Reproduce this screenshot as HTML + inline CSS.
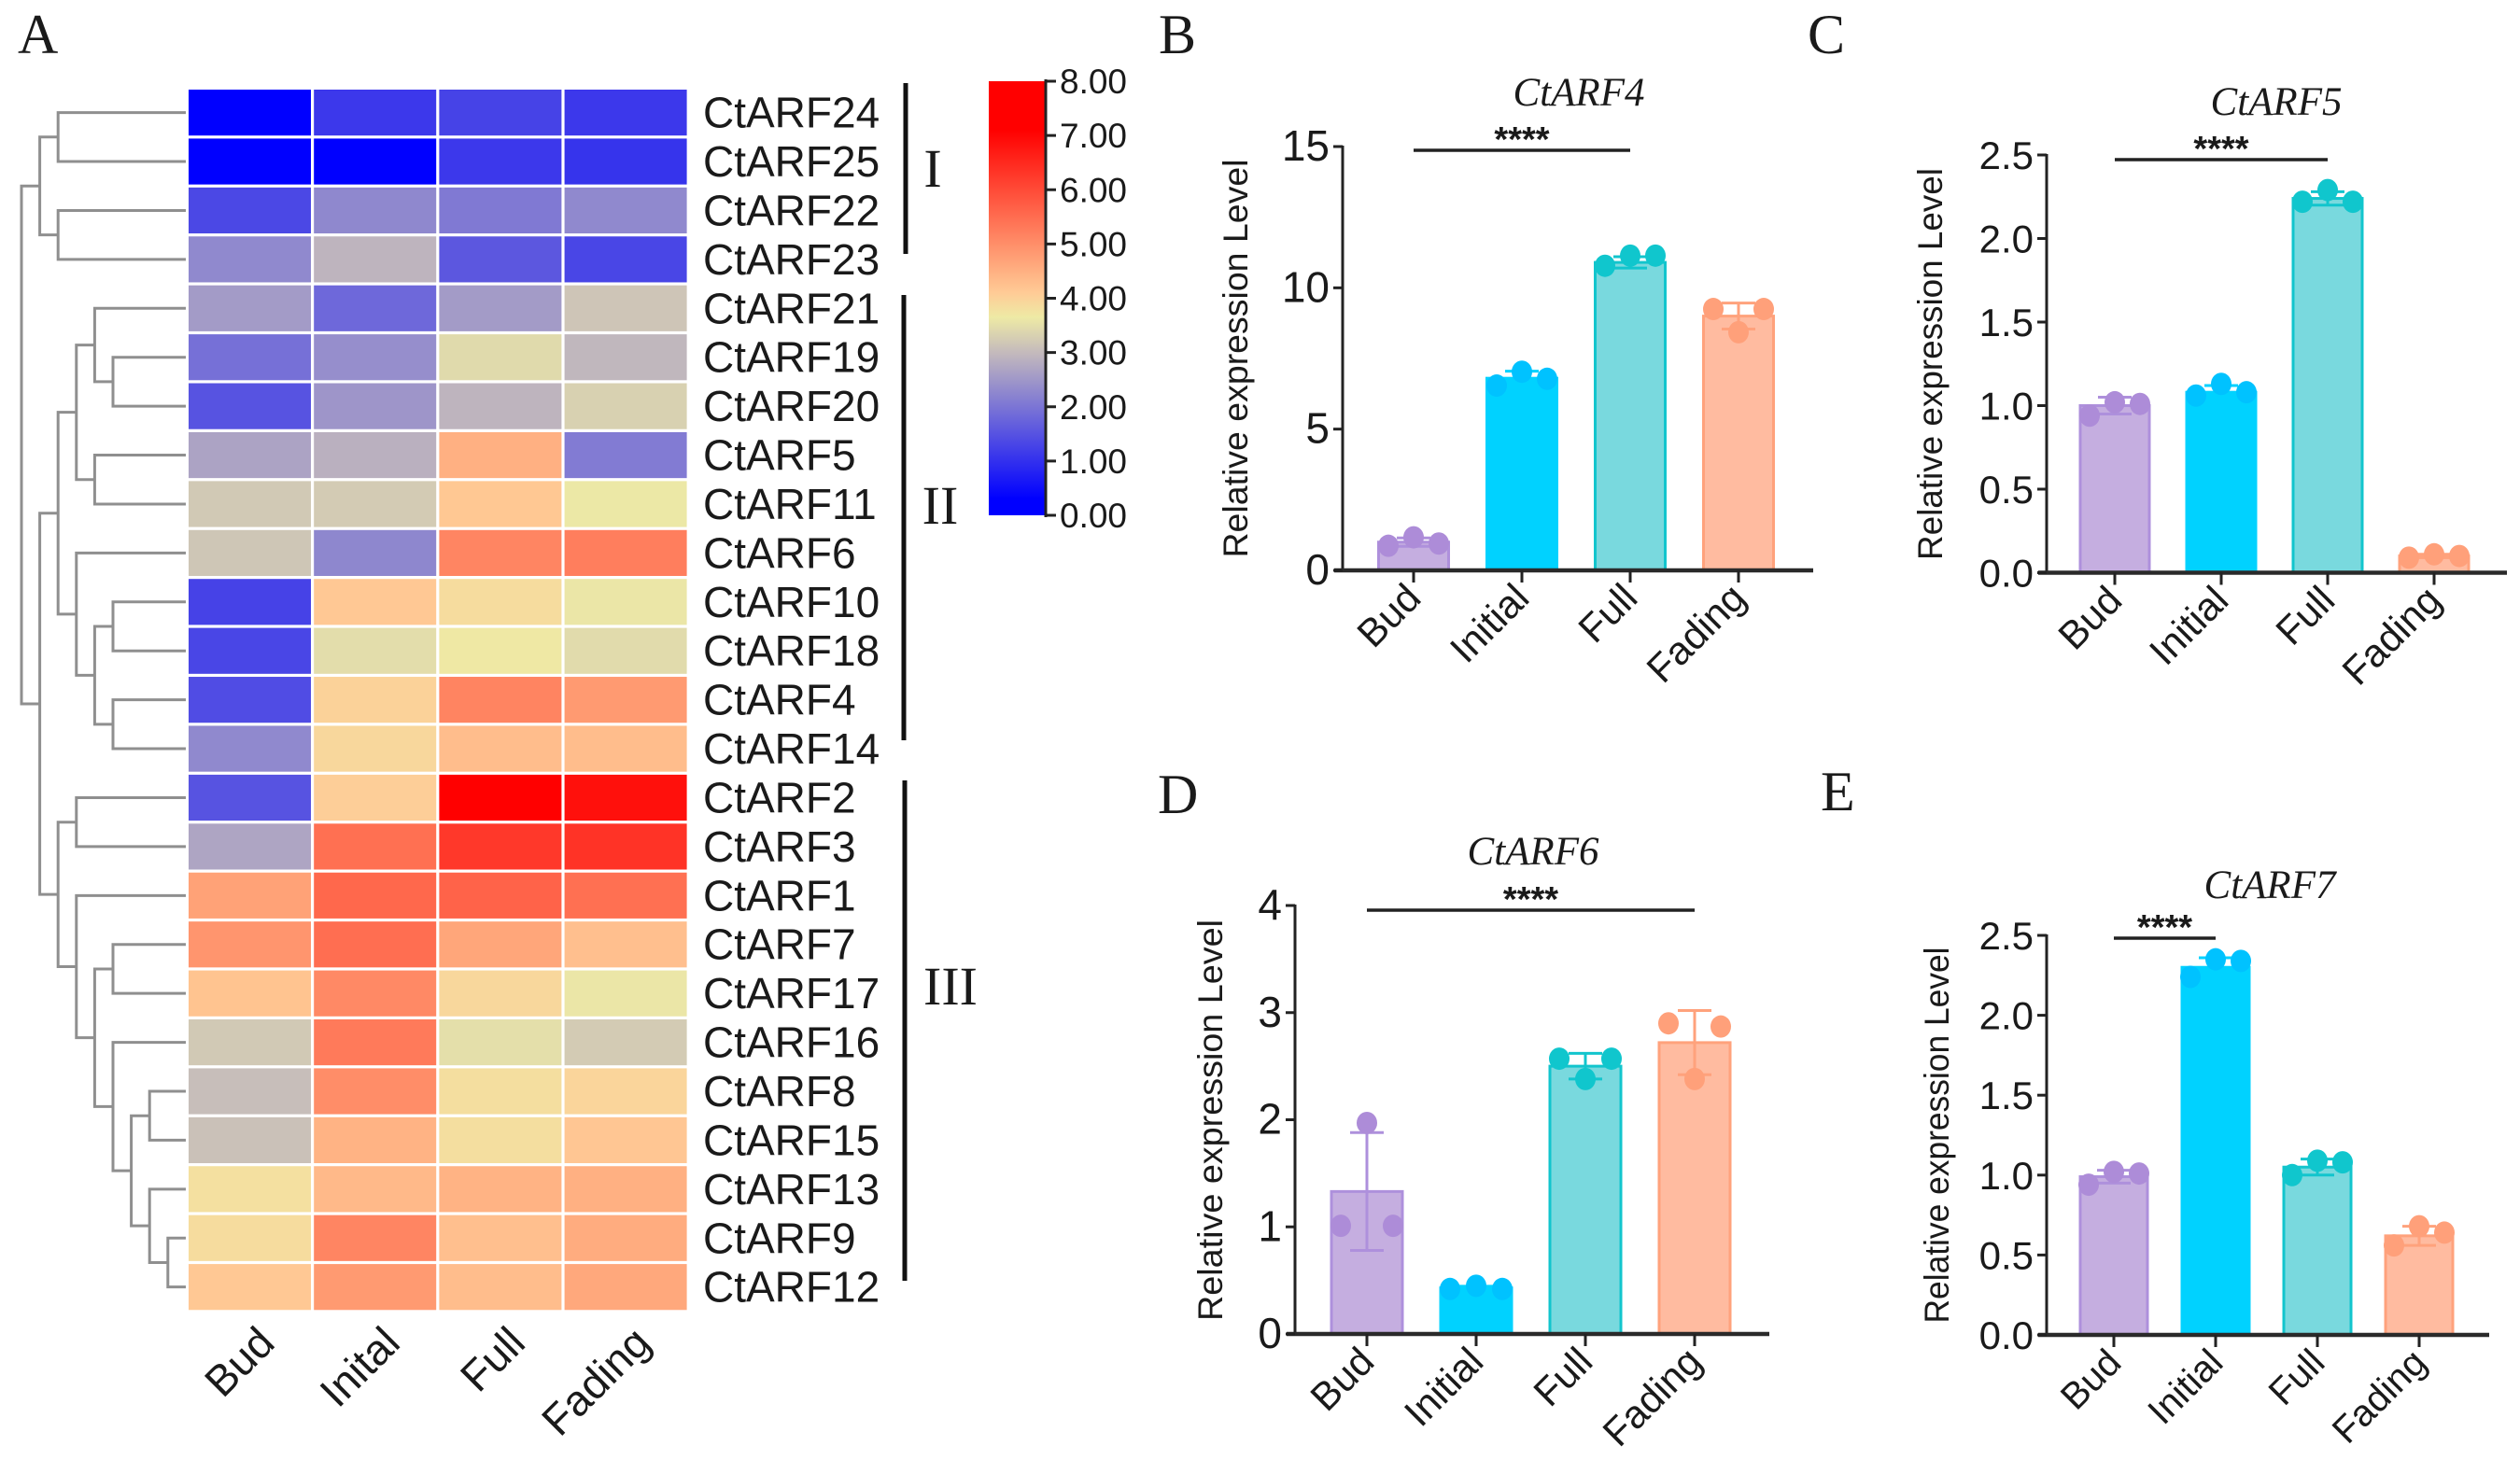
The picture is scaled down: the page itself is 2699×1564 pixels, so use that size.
<!DOCTYPE html>
<html lang="en">
<head>
<meta charset="utf-8">
<title>CtARF expression heatmap and qPCR charts</title>
<style>
html,body{margin:0;padding:0;background:#fff;}
svg{display:block;}
text{font-family:"Liberation Sans",sans-serif;fill:#1a1a1a;}
.serif{font-family:"Liberation Serif",serif;}
</style>
</head>
<body>
<svg id="fig" xmlns="http://www.w3.org/2000/svg" width="2699" height="1564" viewBox="0 0 2699 1564">
  <defs><linearGradient id="cbar" x1="0" y1="1" x2="0" y2="0"></linearGradient></defs>
  <rect x="0" y="0" width="2699" height="1564" fill="#ffffff"/>

  <text class="serif" x="19" y="57" font-size="60">A</text>
  <text class="serif" x="1241" y="57" font-size="60">B</text>
  <text class="serif" x="1936" y="57" font-size="60">C</text>
  <text class="serif" x="1240" y="871" font-size="60">D</text>
  <text class="serif" x="1950" y="868" font-size="60">E</text>

  <g id="dendro"></g>
  <g id="heat"></g>
  <g id="rowlabels"></g>
  <g id="collabels"></g>

  <line x1="970" y1="89" x2="970" y2="272" stroke="#111" stroke-width="5"/>
  <line x1="968" y1="316" x2="968" y2="793" stroke="#111" stroke-width="5"/>
  <line x1="969" y1="836" x2="969" y2="1372" stroke="#111" stroke-width="5"/>
  <text class="serif" x="999" y="200" font-size="58" text-anchor="middle">I</text>
  <text class="serif" x="1007" y="561" font-size="58" text-anchor="middle">II</text>
  <text class="serif" x="1018" y="1076" font-size="58" text-anchor="middle">III</text>

  <rect x="1059" y="87" width="60" height="465" fill="url(#cbar)"/>
  <line x1="1120" y1="85" x2="1120" y2="554" stroke="#222" stroke-width="3"/>
  <g id="cbarticks"></g>

  <g id="panelB"></g>
  <g id="panelC"></g>
  <g id="panelD"></g>
  <g id="panelE"></g>
</svg>

<script>
// ---------- heatmap data ----------
const genes = ["CtARF24","CtARF25","CtARF22","CtARF23","CtARF21","CtARF19","CtARF20","CtARF5","CtARF11","CtARF6","CtARF10","CtARF18","CtARF4","CtARF14","CtARF2","CtARF3","CtARF1","CtARF7","CtARF17","CtARF16","CtARF8","CtARF15","CtARF13","CtARF9","CtARF12"];
const heatStages = ["Bud","Inital","Full","Fading"];
const heatValues = [
  [0.2,1.12,1.27,1.12],
  [0.2,0.2,1.12,1.05],
  [1.34,2.27,2.06,2.29],
  [2.29,2.92,1.57,1.31],
  [2.55,1.81,2.55,3.15],
  [1.92,2.36,3.44,2.95],
  [1.5,2.47,2.92,3.31],
  [2.67,2.86,4.5,2.09],
  [3.2,3.23,4.15,3.62],
  [3.16,2.26,5.14,5.24],
  [1.26,4.14,3.85,3.6],
  [1.31,3.48,3.68,3.45],
  [1.4,4.0,5.15,4.83],
  [2.29,3.92,4.3,4.3],
  [1.5,4.05,7.1,6.86],
  [2.7,5.45,6.27,6.34],
  [4.71,5.57,5.64,5.45],
  [4.9,5.48,4.65,4.27],
  [4.21,5.07,3.92,3.6],
  [3.2,5.3,3.5,3.23],
  [3.05,5.02,3.82,3.96],
  [3.1,4.45,3.82,4.17],
  [3.8,4.36,4.45,4.5],
  [3.85,5.14,4.27,4.56],
  [4.14,4.83,4.3,4.62]
];
const colorbarTicks = ["0.00","1.00","2.00","3.00","4.00","5.00","6.00","7.00","8.00"];
// dendrogram: [level, childA, childB]; a number is a row index into genes
const dendroTree = [0,
  [1,[2,0,1],[2,2,3]],
  [1,
    [2,
      [3,[4,4,[5,5,6]],[4,7,8]],
      [3,9,[4,[5,10,11],[5,12,13]]]
    ],
    [2,
      [3,14,15],
      [3,16,[4,[5,17,18],[5,19,[6,[7,20,21],[7,22,[8,23,24]]]]]]
    ]
  ]
];

// ---------- bar chart data ----------
const barStages = ["Bud","Initial","Full","Fading"];
const b_ticks = ["0","5","10","15"];
const b_means = [1.0,6.8,10.9,9.0];
const b_sd = [0.15,0.25,0.2,0.46];
const b_dots = [[0.87,1.17,0.95],[6.54,7.03,6.78],[10.78,11.14,11.14],[9.25,8.43,9.25]];
const c_ticks = ["0.0","0.5","1.0","1.5","2.0","2.5"];
const c_means = [1.0,1.08,2.24,0.1];
const c_sd = [0.05,0.04,0.04,0.01];
const c_dots = [[0.94,1.02,1.01],[1.06,1.13,1.08],[2.22,2.29,2.22],[0.09,0.11,0.10]];
const d_ticks = ["0","1","2","3","4"];
const d_means = [1.33,0.43,2.5,2.72];
const d_sd = [0.55,0.015,0.12,0.3];
const d_dots = [[1.01,1.97,1.01],[0.42,0.45,0.42],[2.57,2.38,2.57],[2.9,2.38,2.87]];
const e_ticks = ["0.0","0.5","1.0","1.5","2.0","2.5"];
const e_means = [0.99,2.3,1.05,0.62];
const e_sd = [0.04,0.06,0.05,0.06];
const e_dots = [[0.94,1.02,1.01],[2.24,2.35,2.34],[1.0,1.09,1.08],[0.56,0.68,0.64]];

// ---------- helpers ----------
const NS = "http://www.w3.org/2000/svg";
function add(parent, tag, attrs, txt){
  const n = document.createElementNS(NS, tag);
  for (const k in attrs) n.setAttribute(k, attrs[k]);
  if (txt !== undefined) n.textContent = txt;
  parent.appendChild(n);
  return n;
}
const colorStops = [[0.3,[0,0,255]],[3.0,[196,186,188]],[3.65,[238,234,165]],[4.1,[255,203,150]],[7.1,[255,0,0]]];
function heatColor(v){
  if (v <= colorStops[0][0]) return "rgb(0,0,255)";
  for (let i = 1; i < colorStops.length; i++){
    const a = colorStops[i-1], b = colorStops[i];
    if (v <= b[0]){
      const t = (v-a[0])/(b[0]-a[0]);
      return "rgb("+a[1].map((c,j)=>Math.round(c+(b[1][j]-c)*t)).join(",")+")";
    }
  }
  return "rgb(255,0,0)";
}

// ---------- heatmap ----------
const heatTop = 96, rowH = 52.42, heatLeft = 202, colW = 134.2, cellW = 131, cellH = 49.2;
const rowY = i => heatTop + i*rowH;
const colX = j => heatLeft + j*colW;
const heat = document.getElementById("heat");
heatValues.forEach((row,i)=>{
  row.forEach((v,j)=>{
    const c = add(heat,"rect",{x:colX(j),y:rowY(i),width:cellW,height:cellH,fill:heatColor(v)});
    
    
  });
});
const rowLabels = document.getElementById("rowlabels");
genes.forEach((g,i)=>{
  const t = add(rowLabels,"text",{x:753,y:rowY(i)+cellH/2+16,"font-size":46},g);
  
  
});
const colLabels = document.getElementById("collabels");
heatStages.forEach((s,j)=>{
  const cx = colX(j)+cellW/2+29, cy = 1441;
  const t = add(colLabels,"text",{x:cx,y:cy,"font-size":46,"text-anchor":"end",transform:"rotate(-45 "+cx+" "+cy+")"},s);
  
  
});

// ---------- dendrogram ----------
const dendro = document.getElementById("dendro");
const levelX = l => 23 + l*19.6;
const leafEndX = 199;
function drawNode(node){
  if (typeof node === "number") return {y: rowY(node)+cellH/2, x: leafEndX};
  const a = drawNode(node[1]), b = drawNode(node[2]);
  const x = levelX(node[0]);
  const p = add(dendro,"path",{d:"M"+a.x+" "+a.y+"H"+x+"V"+b.y+"H"+b.x,fill:"none",stroke:"#8f8f8f","stroke-width":3});
  
  
  return {y:(a.y+b.y)/2, x:x};
}
drawNode(dendroTree);

// ---------- colorbar ----------
const grad = document.getElementById("cbar");
colorStops.forEach(s=>{
  add(grad,"stop",{offset:(s[0]/8*100)+"%","stop-color":"rgb("+s[1].join(",")+")"});
});
const cbScale = v => 552 - v*(465/8);
const cbTicks = document.getElementById("cbarticks");
colorbarTicks.forEach(l=>{
  const y = cbScale(parseFloat(l));
  const tk = add(cbTicks,"line",{x1:1120,x2:1131,y1:y,y2:y,stroke:"#222","stroke-width":3});
  
  
  const t = add(cbTicks,"text",{x:1135,y:y+13,"font-size":37},l);
  
  
});

// ---------- bar charts ----------
const fills = ["#c5aee0","#00d2ff","#79d9de","#ffbba0"];
const strokes = ["#ae90dc","#00d2ff","#12c5cd","#ffa27c"];
const dotFills = ["#ad8cd8","#00c2ff","#10c6cd","#ffa07a"];

function drawBars(id,opt,ticks,means,sds,dots){
  const g = document.getElementById(id);
  const yMax = parseFloat(ticks[ticks.length-1]);
  const y = v => opt.y0 - v*(opt.y0-opt.yTop)/yMax;
  const x = i => opt.xStart + i*opt.step;

  means.forEach((m,i)=>{
    const bar = add(g,"rect",{x:x(i)-opt.barW/2,y:y(m),width:opt.barW,height:opt.y0-y(m),fill:fills[i],stroke:strokes[i],"stroke-width":3});
    
    
    const err = add(g,"path",{d:"M"+x(i)+" "+y(m+sds[i])+"V"+y(m-sds[i])+"M"+(x(i)-18)+" "+y(m+sds[i])+"h36M"+(x(i)-18)+" "+y(m-sds[i])+"h36",fill:"none",stroke:strokes[i],"stroke-width":3});
    
    
    dots[i].forEach((d,k)=>{
      const dot = add(g,"ellipse",{cx:x(i)+(k-1)*opt.dotOff,cy:y(d),rx:11,ry:12,fill:dotFills[i]});
      
      
    });
  });

  const yAxis = add(g,"line",{x1:opt.axisX,x2:opt.axisX,y1:opt.yTop-1,y2:opt.y0,stroke:"#222","stroke-width":3});
  
  
  const xAxis = add(g,"line",{x1:opt.axisX-9,x2:opt.axisEnd,y1:opt.y0,y2:opt.y0,stroke:"#2a2a2a","stroke-width":4.5});
  
  

  ticks.forEach(l=>{
    const v = parseFloat(l);
    const tk = add(g,"line",{x1:opt.axisX-10,x2:opt.axisX,y1:y(v),y2:y(v),stroke:"#222","stroke-width":3});
    
    
    const t = add(g,"text",{x:opt.axisX-14,y:y(v)+15,"font-size":opt.tickFs,"text-anchor":"end"},l);
    
    
  });
  barStages.forEach((s,i)=>{
    const tk = add(g,"line",{x1:x(i),x2:x(i),y1:opt.y0,y2:opt.y0+13,stroke:"#222","stroke-width":3});
    
    
    const cx = x(i)+10, cy = opt.y0+32;
    const t = add(g,"text",{x:cx,y:cy,"font-size":opt.catFs,"text-anchor":"end",transform:"rotate(-45 "+cx+" "+cy+")"},s);
    
    
  });

  const tx = opt.titleX, ty = opt.titleMidY;
  const yt = add(g,"text",{x:tx,y:ty,"font-size":37,"text-anchor":"middle",textLength:opt.titleLen,lengthAdjust:"spacingAndGlyphs",transform:"rotate(-90 "+tx+" "+ty+")"},"Relative expression Level");
  
  

  const head = add(g,"text",{class:"serif",x:opt.headX,y:opt.headY,"font-size":43,"font-style":"italic","text-anchor":"middle"},opt.head);
  
  

  const sig = add(g,"line",{x1:x(opt.sigFrom),x2:x(opt.sigTo),y1:opt.sigY,y2:opt.sigY,stroke:"#222","stroke-width":3.5});
  
  
  const sx = (x(opt.sigFrom)+x(opt.sigTo))/2;
  const st = add(g,"text",{x:sx,y:opt.sigY+1,"font-size":38,"text-anchor":"middle","font-weight":"bold"},"****");
  
  
}

drawBars("panelB",{y0:611,yTop:157,axisX:1438,axisEnd:1942,xStart:1514,step:116,barW:75,dotOff:27,tickFs:46,catFs:42,
  titleX:1336,titleMidY:384,titleLen:427,head:"CtARF4",headX:1691,headY:113,sigFrom:0,sigTo:2,sigY:161},b_ticks,b_means,b_sd,b_dots);
drawBars("panelC",{y0:613.5,yTop:166,axisX:2192,axisEnd:2685,xStart:2265,step:114,barW:74,dotOff:27,tickFs:42,catFs:42,
  titleX:2080,titleMidY:390,titleLen:420,head:"CtARF5",headX:2438,headY:123,sigFrom:0,sigTo:2,sigY:171},c_ticks,c_means,c_sd,c_dots);
drawBars("panelD",{y0:1429,yTop:970,axisX:1387,axisEnd:1895,xStart:1464,step:117,barW:76,dotOff:28,tickFs:46,catFs:42,
  titleX:1309,titleMidY:1200,titleLen:430,head:"CtARF6",headX:1642,headY:926,sigFrom:0,sigTo:3,sigY:975},d_ticks,d_means,d_sd,d_dots);
drawBars("panelE",{y0:1430,yTop:1002,axisX:2192,axisEnd:2666,xStart:2264,step:109,barW:72,dotOff:27,tickFs:42,catFs:40,
  titleX:2087,titleMidY:1216,titleLen:403,head:"CtARF7",headX:2431,headY:962,sigFrom:0,sigTo:1,sigY:1005},e_ticks,e_means,e_sd,e_dots);
</script>
</body>
</html>
